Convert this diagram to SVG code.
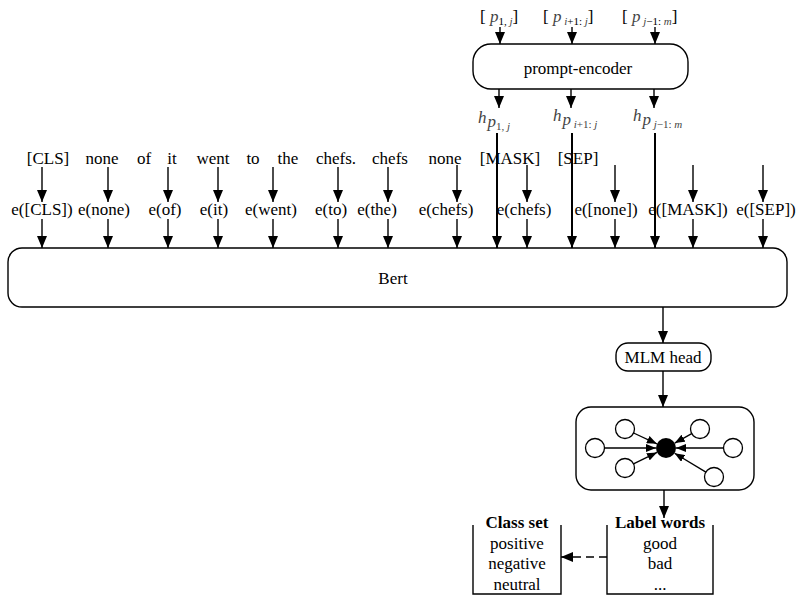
<svg xmlns="http://www.w3.org/2000/svg" width="797" height="596" viewBox="0 0 797 596" font-family="'Liberation Serif', Tinos, 'DejaVu Serif', serif">
<defs>
<marker id="ah" markerUnits="userSpaceOnUse" markerWidth="12" markerHeight="10" refX="12" refY="5" orient="auto"><path d="M0,0 L12,5 L0,10 z" fill="#000"/></marker>
<marker id="ahs" markerUnits="userSpaceOnUse" markerWidth="10" markerHeight="8" refX="10" refY="4" orient="auto"><path d="M0,0 L10,4 L0,8 z" fill="#000"/></marker>
<style>
text{font-family:'Liberation Serif', Tinos, 'DejaVu Serif', serif;font-size:17px;fill:#000}
.m{text-anchor:middle}
.b{font-weight:bold}
.it{font-style:italic;fill:#444}
.sub{font-size:11px}
.box{fill:#fff;stroke:#000;stroke-width:1.4}
.c{stroke:#000;stroke-width:1.4;fill:none;marker-end:url(#ah)}
.cs{stroke:#000;stroke-width:1.3;fill:none;marker-end:url(#ahs)}
.h{stroke:#000;stroke-width:2;fill:none;marker-end:url(#ah)}
.open{fill:none;stroke:#000;stroke-width:1.4}
.circ{fill:#fff;stroke:#000;stroke-width:1.3}
</style>
</defs>

<g id="inputs">
<text x="480" y="22">[ <tspan class="it">p</tspan><tspan class="sub" dy="3">1, </tspan><tspan class="sub it">j</tspan><tspan dy="-3">]</tspan></text>
<text x="543" y="22">[ <tspan class="it">p</tspan><tspan class="sub it" dy="3"> i</tspan><tspan class="sub">+1: </tspan><tspan class="sub it">j</tspan><tspan dy="-3">]</tspan></text>
<text x="622" y="22">[ <tspan class="it">p</tspan><tspan class="sub it" dy="3"> j</tspan><tspan class="sub">−1: </tspan><tspan class="sub it">m</tspan><tspan dy="-3">]</tspan></text>
</g>

<g id="prompt-encoder">
<rect class="box" x="473" y="44" width="215" height="45" rx="18"/>
<text class="m" x="578" y="74">prompt-encoder</text>
</g>

<g id="h-labels">
<text class="it" x="478" y="123">h<tspan dx="1" dy="4">p</tspan><tspan class="sub" dy="3" font-style="normal">1, </tspan><tspan class="sub">j</tspan></text>
<text class="it" x="553" y="121">h<tspan dx="1" dy="4">p</tspan><tspan class="sub" dy="3"> i</tspan><tspan class="sub" font-style="normal">+1: </tspan><tspan class="sub">j</tspan></text>
<text class="it" x="633" y="121">h<tspan dx="1" dy="4">p</tspan><tspan class="sub" dy="3"> j</tspan><tspan class="sub" font-style="normal">−1: </tspan><tspan class="sub">m</tspan></text>
</g>

<g id="words">
<text class="m" x="48" y="164">[CLS]</text>
<text class="m" x="102" y="164">none</text>
<text class="m" x="144" y="164">of</text>
<text class="m" x="172" y="164">it</text>
<text class="m" x="213" y="164">went</text>
<text class="m" x="253" y="164">to</text>
<text class="m" x="288" y="164">the</text>
<text class="m" x="336" y="164">chefs.</text>
<text class="m" x="390" y="164">chefs</text>
<text class="m" x="445" y="164">none</text>
<text class="m" x="510" y="164">[MASK]</text>
<text class="m" x="578" y="164">[SEP]</text>
</g>

<g id="embeddings">
<text class="m" x="42" y="215">e([CLS])</text>
<text class="m" x="104" y="215">e(none)</text>
<text class="m" x="165" y="215">e(of)</text>
<text class="m" x="214" y="215">e(it)</text>
<text class="m" x="271" y="215">e(went)</text>
<text class="m" x="331" y="215">e(to)</text>
<text class="m" x="377" y="215">e(the)</text>
<text class="m" x="446" y="215">e(chefs)</text>
<text class="m" x="524" y="215">e(chefs)</text>
<text class="m" x="606" y="215">e([none])</text>
<text class="m" x="688" y="215">e([MASK])</text>
<text class="m" x="766" y="215">e([SEP])</text>
</g>

<g id="bert">
<rect class="box" x="8" y="248" width="779" height="59" rx="14"/>
<text class="m" x="393" y="284">Bert</text>
</g>

<g id="mlm-head">
<rect class="box" x="616" y="343" width="95" height="28" rx="12"/>
<text class="m" x="663" y="363">MLM head</text>
</g>

<g id="graph">
<rect class="box" x="576" y="407" width="178" height="83" rx="15"/>
<circle class="circ" cx="625" cy="429" r="9.5"/>
<circle class="circ" cx="595" cy="448" r="9.5"/>
<circle class="circ" cx="625" cy="468" r="9.5"/>
<circle class="circ" cx="700" cy="429" r="9.5"/>
<circle class="circ" cx="733" cy="448" r="9.5"/>
<circle class="circ" cx="714" cy="477" r="9.5"/>
<circle cx="666" cy="448" r="10" fill="#000"/>
<line class="cs" x1="633.6" y1="433" x2="656.9" y2="443.8"/>
<line class="cs" x1="604.5" y1="448" x2="656" y2="448"/>
<line class="cs" x1="633.5" y1="463.8" x2="657" y2="452.4"/>
<line class="cs" x1="691.7" y1="433.6" x2="674.7" y2="443.1"/>
<line class="cs" x1="723.5" y1="448" x2="676" y2="448"/>
<line class="cs" x1="705.9" y1="472.1" x2="674.6" y2="453.2"/>
</g>

<g id="class-set">
<path class="open" d="M473,525 V594 H561 V525"/>
<text class="m b" x="517" y="528">Class set</text>
<text class="m" x="517" y="549">positive</text>
<text class="m" x="517" y="569">negative</text>
<text class="m" x="517" y="590">neutral</text>
</g>

<g id="label-words">
<path class="open" d="M607,525 V594 H713 V525"/>
<text class="m b" x="660" y="528">Label words</text>
<text class="m" x="660" y="549">good</text>
<text class="m" x="660" y="569">bad</text>
<text class="m" x="660" y="590">...</text>
</g>

<g id="connectors">
<line class="c" x1="500" y1="27" x2="500" y2="44"/>
<line class="c" x1="572" y1="27" x2="572" y2="44"/>
<line class="c" x1="655" y1="27" x2="655" y2="44"/>
<line class="c" x1="499" y1="89" x2="499" y2="108"/>
<line class="c" x1="571" y1="89" x2="571" y2="108"/>
<line class="c" x1="654" y1="89" x2="654" y2="108"/>
<line class="h" x1="497" y1="133" x2="497" y2="248"/>
<line class="h" x1="572" y1="133" x2="572" y2="248"/>
<line class="h" x1="655" y1="133" x2="655" y2="248"/>
<line class="c" x1="42" y1="167" x2="42" y2="202"/>
<line class="c" x1="108" y1="167" x2="108" y2="202"/>
<line class="c" x1="168" y1="167" x2="168" y2="202"/>
<line class="c" x1="218" y1="167" x2="218" y2="202"/>
<line class="c" x1="273" y1="167" x2="273" y2="202"/>
<line class="c" x1="338" y1="167" x2="338" y2="202"/>
<line class="c" x1="388" y1="167" x2="388" y2="202"/>
<line class="c" x1="457" y1="165" x2="457" y2="202"/>
<line class="c" x1="527" y1="165" x2="527" y2="202"/>
<line class="c" x1="615" y1="165" x2="615" y2="202"/>
<line class="c" x1="693" y1="165" x2="693" y2="202"/>
<line class="c" x1="763" y1="165" x2="763" y2="202"/>
<line class="c" x1="42" y1="219" x2="42" y2="248"/>
<line class="c" x1="108" y1="219" x2="108" y2="248"/>
<line class="c" x1="168" y1="219" x2="168" y2="248"/>
<line class="c" x1="218" y1="219" x2="218" y2="248"/>
<line class="c" x1="273" y1="219" x2="273" y2="248"/>
<line class="c" x1="338" y1="219" x2="338" y2="248"/>
<line class="c" x1="388" y1="219" x2="388" y2="248"/>
<line class="c" x1="457" y1="219" x2="457" y2="248"/>
<line class="c" x1="527" y1="219" x2="527" y2="248"/>
<line class="c" x1="615" y1="219" x2="615" y2="248"/>
<line class="c" x1="693" y1="219" x2="693" y2="248"/>
<line class="c" x1="763" y1="219" x2="763" y2="248"/>
<line class="c" x1="663" y1="307" x2="663" y2="343"/>
<line class="c" x1="663" y1="371" x2="663" y2="407"/>
<line class="c" x1="664" y1="490" x2="664" y2="518"/>
<line class="c" x1="607" y1="557" x2="561" y2="557" stroke-dasharray="8 5"/>
</g>
</svg>
